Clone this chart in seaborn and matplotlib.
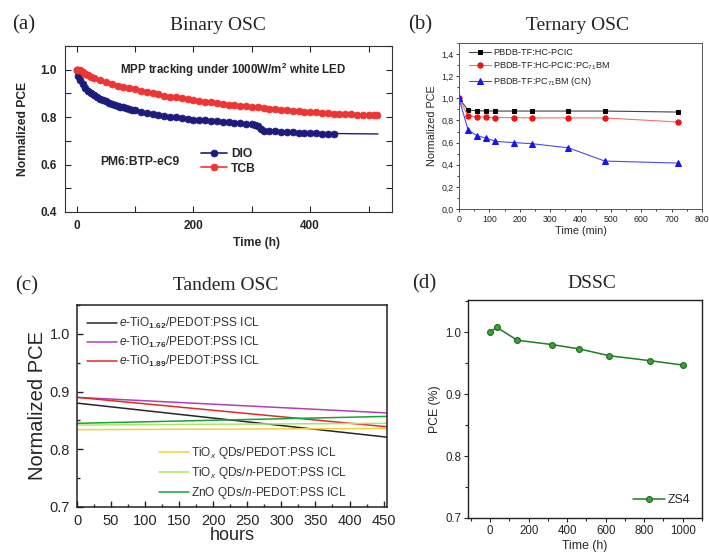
import numpy as np
import pandas as pd
import seaborn as sns
import matplotlib.pyplot as plt
from matplotlib.ticker import MultipleLocator, FuncFormatter

# ---- (a) Binary OSC: MPP tracking ----
dio_time = [0, 3, 6, 10, 15, 20, 25, 30, 35, 40, 45, 50, 55, 60, 65, 70, 75, 80, 85, 90, 95, 100,
            110, 120, 130, 140, 150, 160, 170, 180, 190, 200, 210, 220, 230, 240, 250, 260, 270,
            280, 290, 300, 305, 310, 315, 320, 330, 340, 350, 360, 370, 380, 390, 400, 410, 420,
            430, 440]
dio_pce = [1.0, 0.975, 0.955, 0.94, 0.925, 0.912, 0.902, 0.893, 0.885, 0.878, 0.872, 0.866, 0.861,
           0.856, 0.852, 0.848, 0.844, 0.841, 0.838, 0.835, 0.832, 0.829, 0.823, 0.818, 0.813,
           0.808, 0.805, 0.802, 0.799, 0.796, 0.793, 0.79, 0.788, 0.786, 0.784, 0.782, 0.78,
           0.778, 0.776, 0.774, 0.771, 0.769, 0.768, 0.764, 0.748, 0.743, 0.741, 0.74, 0.738,
           0.737, 0.736, 0.735, 0.734, 0.733, 0.732, 0.731, 0.73, 0.731]
dio_tail_time = [440, 516]
dio_tail_pce = [0.731, 0.729]
tcb_time = [0, 3, 6, 10, 15, 20, 25, 30, 40, 50, 60, 70, 80, 90, 100, 110, 120, 130, 140, 150,
            160, 170, 180, 190, 200, 210, 220, 230, 240, 250, 260, 270, 280, 290, 300, 310, 320,
            330, 340, 350, 360, 370, 380, 390, 400, 410, 420, 430, 440, 450, 460, 470, 480, 490,
            500, 510, 515]
tcb_pce = [1.0, 1.0, 0.998, 0.99, 0.983, 0.976, 0.971, 0.965, 0.955, 0.948, 0.94, 0.933, 0.927,
           0.922, 0.917, 0.911, 0.906, 0.901, 0.896, 0.891, 0.887, 0.883, 0.879, 0.875, 0.871,
           0.868, 0.865, 0.862, 0.859, 0.856, 0.853, 0.85, 0.848, 0.846, 0.844, 0.842, 0.839,
           0.836, 0.834, 0.831, 0.829, 0.827, 0.825, 0.823, 0.821, 0.82, 0.818, 0.816, 0.815,
           0.814, 0.813, 0.812, 0.811, 0.81, 0.809, 0.808, 0.808]

# ---- (b) Ternary OSC ----
tern_time = [0, 30, 60, 90, 120, 180, 240, 360, 480, 720]
hc_pcic = [1.0, 0.894, 0.888, 0.885, 0.885, 0.885, 0.885, 0.885, 0.885, 0.876]
hc_pcic_pcbm = [1.0, 0.84, 0.834, 0.831, 0.826, 0.826, 0.823, 0.823, 0.823, 0.786]
pcbm_cn = [1.0, 0.713, 0.661, 0.64, 0.611, 0.60, 0.59, 0.553, 0.433, 0.415]

# ---- (c) Tandem OSC ----
tandem_hours = [0, 455]
ti162 = [0.880, 0.821]
ti176 = [0.890, 0.863]
ti189 = [0.890, 0.839]
tiox_pedot = [0.834, 0.836]
tiox_npedot = [0.842, 0.845]
zno_npedot = [0.845, 0.857]

# ---- (d) DSSC ----
dssc_time = [0, 34, 141, 322, 462, 619, 831, 1000]
dssc_pce = [1.0, 1.008, 0.987, 0.98, 0.973, 0.962, 0.954, 0.947]

sns.set_style("ticks")
plt.rcParams['font.family'] = ['Liberation Sans', 'DejaVu Sans']
plt.rcParams['mathtext.fontset'] = 'custom'
plt.rcParams['mathtext.rm'] = 'Liberation Sans'
plt.rcParams['mathtext.it'] = 'Liberation Sans:italic'
plt.rcParams['mathtext.bf'] = 'Liberation Sans:bold'

W, H = 709, 553
fig = plt.figure(figsize=(W / 100, H / 100), dpi=100)


def box(l, t, r, b):
    return [l / W, 1 - b / H, (r - l) / W, (b - t) / H]


serif = ['Liberation Serif', 'DejaVu Serif']
def head(x, y, label, title):
    fig.text(x[0] / W, 1 - y / H, label, family=serif, fontsize=15, ha='left', va='center')
    fig.text(x[1] / W, 1 - y / H, title, family=serif, fontsize=14, ha='center', va='center')


# ---------- (a) ----------
ax = fig.add_axes(box(65, 46, 392, 212))
sns.lineplot(x=dio_tail_time, y=dio_tail_pce, ax=ax, color='#1c1c7c', lw=1.0)
sns.lineplot(x=dio_time, y=dio_pce, ax=ax, color='#1c1c7c', marker='o', markersize=5,
             markeredgecolor='#1c1c7c', markeredgewidth=0.5, lw=2.0, label='DIO')
sns.lineplot(x=tcb_time, y=tcb_pce, ax=ax, color='#ef3434', marker='o', markersize=5,
             markeredgecolor='#ef3434', markeredgewidth=0.5, lw=2.0, label='TCB')
ax.set_xlim(-20, 540)
ax.set_ylim(0.4, 1.1)
ax.xaxis.set_major_locator(MultipleLocator(200))
ax.xaxis.set_minor_locator(MultipleLocator(100))
ax.yaxis.set_major_locator(MultipleLocator(0.2))
ax.yaxis.set_minor_locator(MultipleLocator(0.1))
ax.yaxis.set_major_formatter(FuncFormatter(lambda v, p: f"{v:.1f}"))
ax.tick_params(which='both', direction='in', top=True, right=True, length=4, width=0.8,
               labelsize=8.5, pad=6)
for lab in ax.get_xticklabels() + ax.get_yticklabels():
    lab.set_fontweight('bold')
ax.set_xlabel('Time (h)', fontsize=8.7, fontweight='bold')
ax.set_ylabel('Normalized PCE', fontsize=8.7, fontweight='bold')
ax.xaxis.set_label_coords(0.585, -0.15)
ax.yaxis.set_label_coords(-0.11, 0.5)
for s in ax.spines.values():
    s.set_linewidth(0.8)
    s.set_color('#333333')
ax.text(268, 1.0, r'MPP tracking under 1000W/m$^{\mathbf{2}}$ white LED', fontsize=8.3,
        fontweight='bold', ha='center', va='center')
ax.text(40, 0.61, 'PM6:BTP-eC9', fontsize=8.7, fontweight='bold', ha='left', va='center')
leg = ax.legend(loc='upper left', bbox_to_anchor=(0.415, 0.385), frameon=False, borderpad=0,
                borderaxespad=0, handlelength=2.2, handletextpad=0.3, labelspacing=0.2,
                prop={'size': 8.7, 'weight': 'bold'})
for h in leg.legend_handles:
    h.set_linewidth(1.2)
head((12, 218), 25, '(a)', 'Binary OSC')

# ---------- (b) ----------
ax = fig.add_axes(box(459, 43, 702, 209))
sns.lineplot(x=tern_time, y=hc_pcic, ax=ax, color='#444444', marker='s', markersize=3.4,
             markerfacecolor='black', markeredgecolor='black', lw=0.8, label='PBDB-TF:HC-PCIC')
sns.lineplot(x=tern_time, y=hc_pcic_pcbm, ax=ax, color='#f07070', marker='o', markersize=3.8,
             markerfacecolor='#ee1111', markeredgecolor='#ee1111', lw=0.8,
             label=r'PBDB-TF:HC-PCIC:PC$_{71}$BM')
sns.lineplot(x=tern_time, y=pcbm_cn, ax=ax, color='#4a4af0', marker='^', markersize=4,
             markerfacecolor='#1515ee', markeredgecolor='#1515ee', lw=0.8,
             label=r'PBDB-TF:PC$_{71}$BM (CN)')
ax.set_xlim(0, 800)
ax.set_ylim(0, 1.5)
ax.xaxis.set_major_locator(MultipleLocator(100))
ax.xaxis.set_minor_locator(MultipleLocator(50))
ax.yaxis.set_major_locator(MultipleLocator(0.2))
ax.yaxis.set_minor_locator(MultipleLocator(0.1))
ax.yaxis.set_major_formatter(FuncFormatter(lambda v, p: f"{v:.1f}".replace('.', ',')))
ax.tick_params(which='both', direction='out', length=2.5, width=0.6, labelsize=6.3, pad=1.5,
               colors='#222222')
ax.tick_params(which='minor', length=1.5)
ax.set_xlabel('Time (min)', fontsize=7.8, labelpad=2)
ax.set_ylabel('Normalized PCE', fontsize=7.8, labelpad=3)
for s in ax.spines.values():
    s.set_linewidth(0.7)
    s.set_color('#555555')
ax.legend(loc='upper left', bbox_to_anchor=(0.04, 0.97), frameon=False, borderpad=0,
          borderaxespad=0, handlelength=2.4, handletextpad=0.3, labelspacing=0.35,
          prop={'size': 6.6})
head((408, 577), 25, '(b)', 'Ternary OSC')

# ---------- (c) ----------
ax = fig.add_axes(box(77, 305, 387, 507))
series_c = [
    (ti162, '#262626', r'$\it{e}$-TiO$_{\mathbf{1.62}}$/PEDOT:PSS ICL'),
    (ti176, '#b040b4', r'$\it{e}$-TiO$_{\mathbf{1.76}}$/PEDOT:PSS ICL'),
    (ti189, '#e8262a', r'$\it{e}$-TiO$_{\mathbf{1.89}}$/PEDOT:PSS ICL'),
    (tiox_pedot, '#f3d232', r'TiO$_{x}$ QDs/PEDOT:PSS ICL'),
    (tiox_npedot, '#aee46a', r'TiO$_{x}$ QDs/$\it{n}$-PEDOT:PSS ICL'),
    (zno_npedot, '#16a33a', r'ZnO QDs/$\it{n}$-PEDOT:PSS ICL'),
]
for vals, col, lab in series_c:
    sns.lineplot(x=tandem_hours, y=vals, ax=ax, color=col, lw=1.1, label=lab)
ax.set_xlim(0, 455)
ax.set_ylim(0.7, 1.05)
ax.xaxis.set_major_locator(MultipleLocator(50))
ax.xaxis.set_minor_locator(MultipleLocator(25))
ax.yaxis.set_major_locator(MultipleLocator(0.1))
ax.yaxis.set_minor_locator(MultipleLocator(0.05))
ax.yaxis.set_major_formatter(FuncFormatter(lambda v, p: f"{v:.1f}"))
ax.tick_params(which='both', direction='in', length=4.5, width=1.0, labelsize=10.5, pad=5)
ax.tick_params(which='minor', length=2.5)
ax.set_xlabel('hours', fontsize=13, labelpad=-1)
ax.set_ylabel('Normalized PCE', fontsize=14.5, labelpad=2)
for s in ax.spines.values():
    s.set_linewidth(1.1)
    s.set_color('#222222')
hs = ax.get_lines()
kw = dict(frameon=False, borderpad=0, borderaxespad=0, handlelength=2.5, handletextpad=0.2,
          labelspacing=0.33, prop={'size': 8.6})
leg1 = ax.legend(hs[:3], [s[2] for s in series_c[:3]], loc='upper left',
                 bbox_to_anchor=(0.033, 0.945), **kw)
for t in leg1.get_texts():
    t.set_color('#333333')
ax.add_artist(leg1)
leg2 = ax.legend(hs[3:], [s[2] for s in series_c[3:]], loc='upper left',
                 bbox_to_anchor=(0.265, 0.305), **kw)
for t in leg2.get_texts():
    t.set_color('#333333')
head((15, 226), 286, '(c)', 'Tandem OSC')

# ---------- (d) ----------
ax = fig.add_axes(box(468, 300, 702, 518))
sns.lineplot(x=dssc_time, y=dssc_pce, ax=ax, color='#1f7d22', marker='o', markersize=4.2,
             markerfacecolor='#3fa040', markeredgecolor='#1a6a1c', markeredgewidth=0.8,
             lw=1.1, label='ZS4')
ax.set_xlim(-115, 1100)
ax.set_ylim(0.7, 1.052)
ax.xaxis.set_major_locator(MultipleLocator(200))
ax.xaxis.set_minor_locator(MultipleLocator(100))
ax.yaxis.set_major_locator(MultipleLocator(0.1))
ax.yaxis.set_minor_locator(MultipleLocator(0.05))
ax.yaxis.set_major_formatter(FuncFormatter(lambda v, p: f"{v:.1f}"))
ax.tick_params(which='both', direction='out', length=3, width=0.8, labelsize=8.3, pad=2)
ax.tick_params(which='minor', length=2)
ax.set_xlabel('Time (h)', fontsize=8.8, labelpad=2)
ax.set_ylabel('PCE (%)', fontsize=8.8, labelpad=3)
for s in ax.spines.values():
    s.set_linewidth(1.0)
    s.set_color('#222222')
ax.legend(loc='center left', bbox_to_anchor=(0.705, 0.083), frameon=False, borderpad=0,
          borderaxespad=0, handlelength=2.6, handletextpad=0.25, prop={'size': 8.8})
head((412, 592), 284, '(d)', 'DSSC')

fig.savefig('out.png', dpi=100)
